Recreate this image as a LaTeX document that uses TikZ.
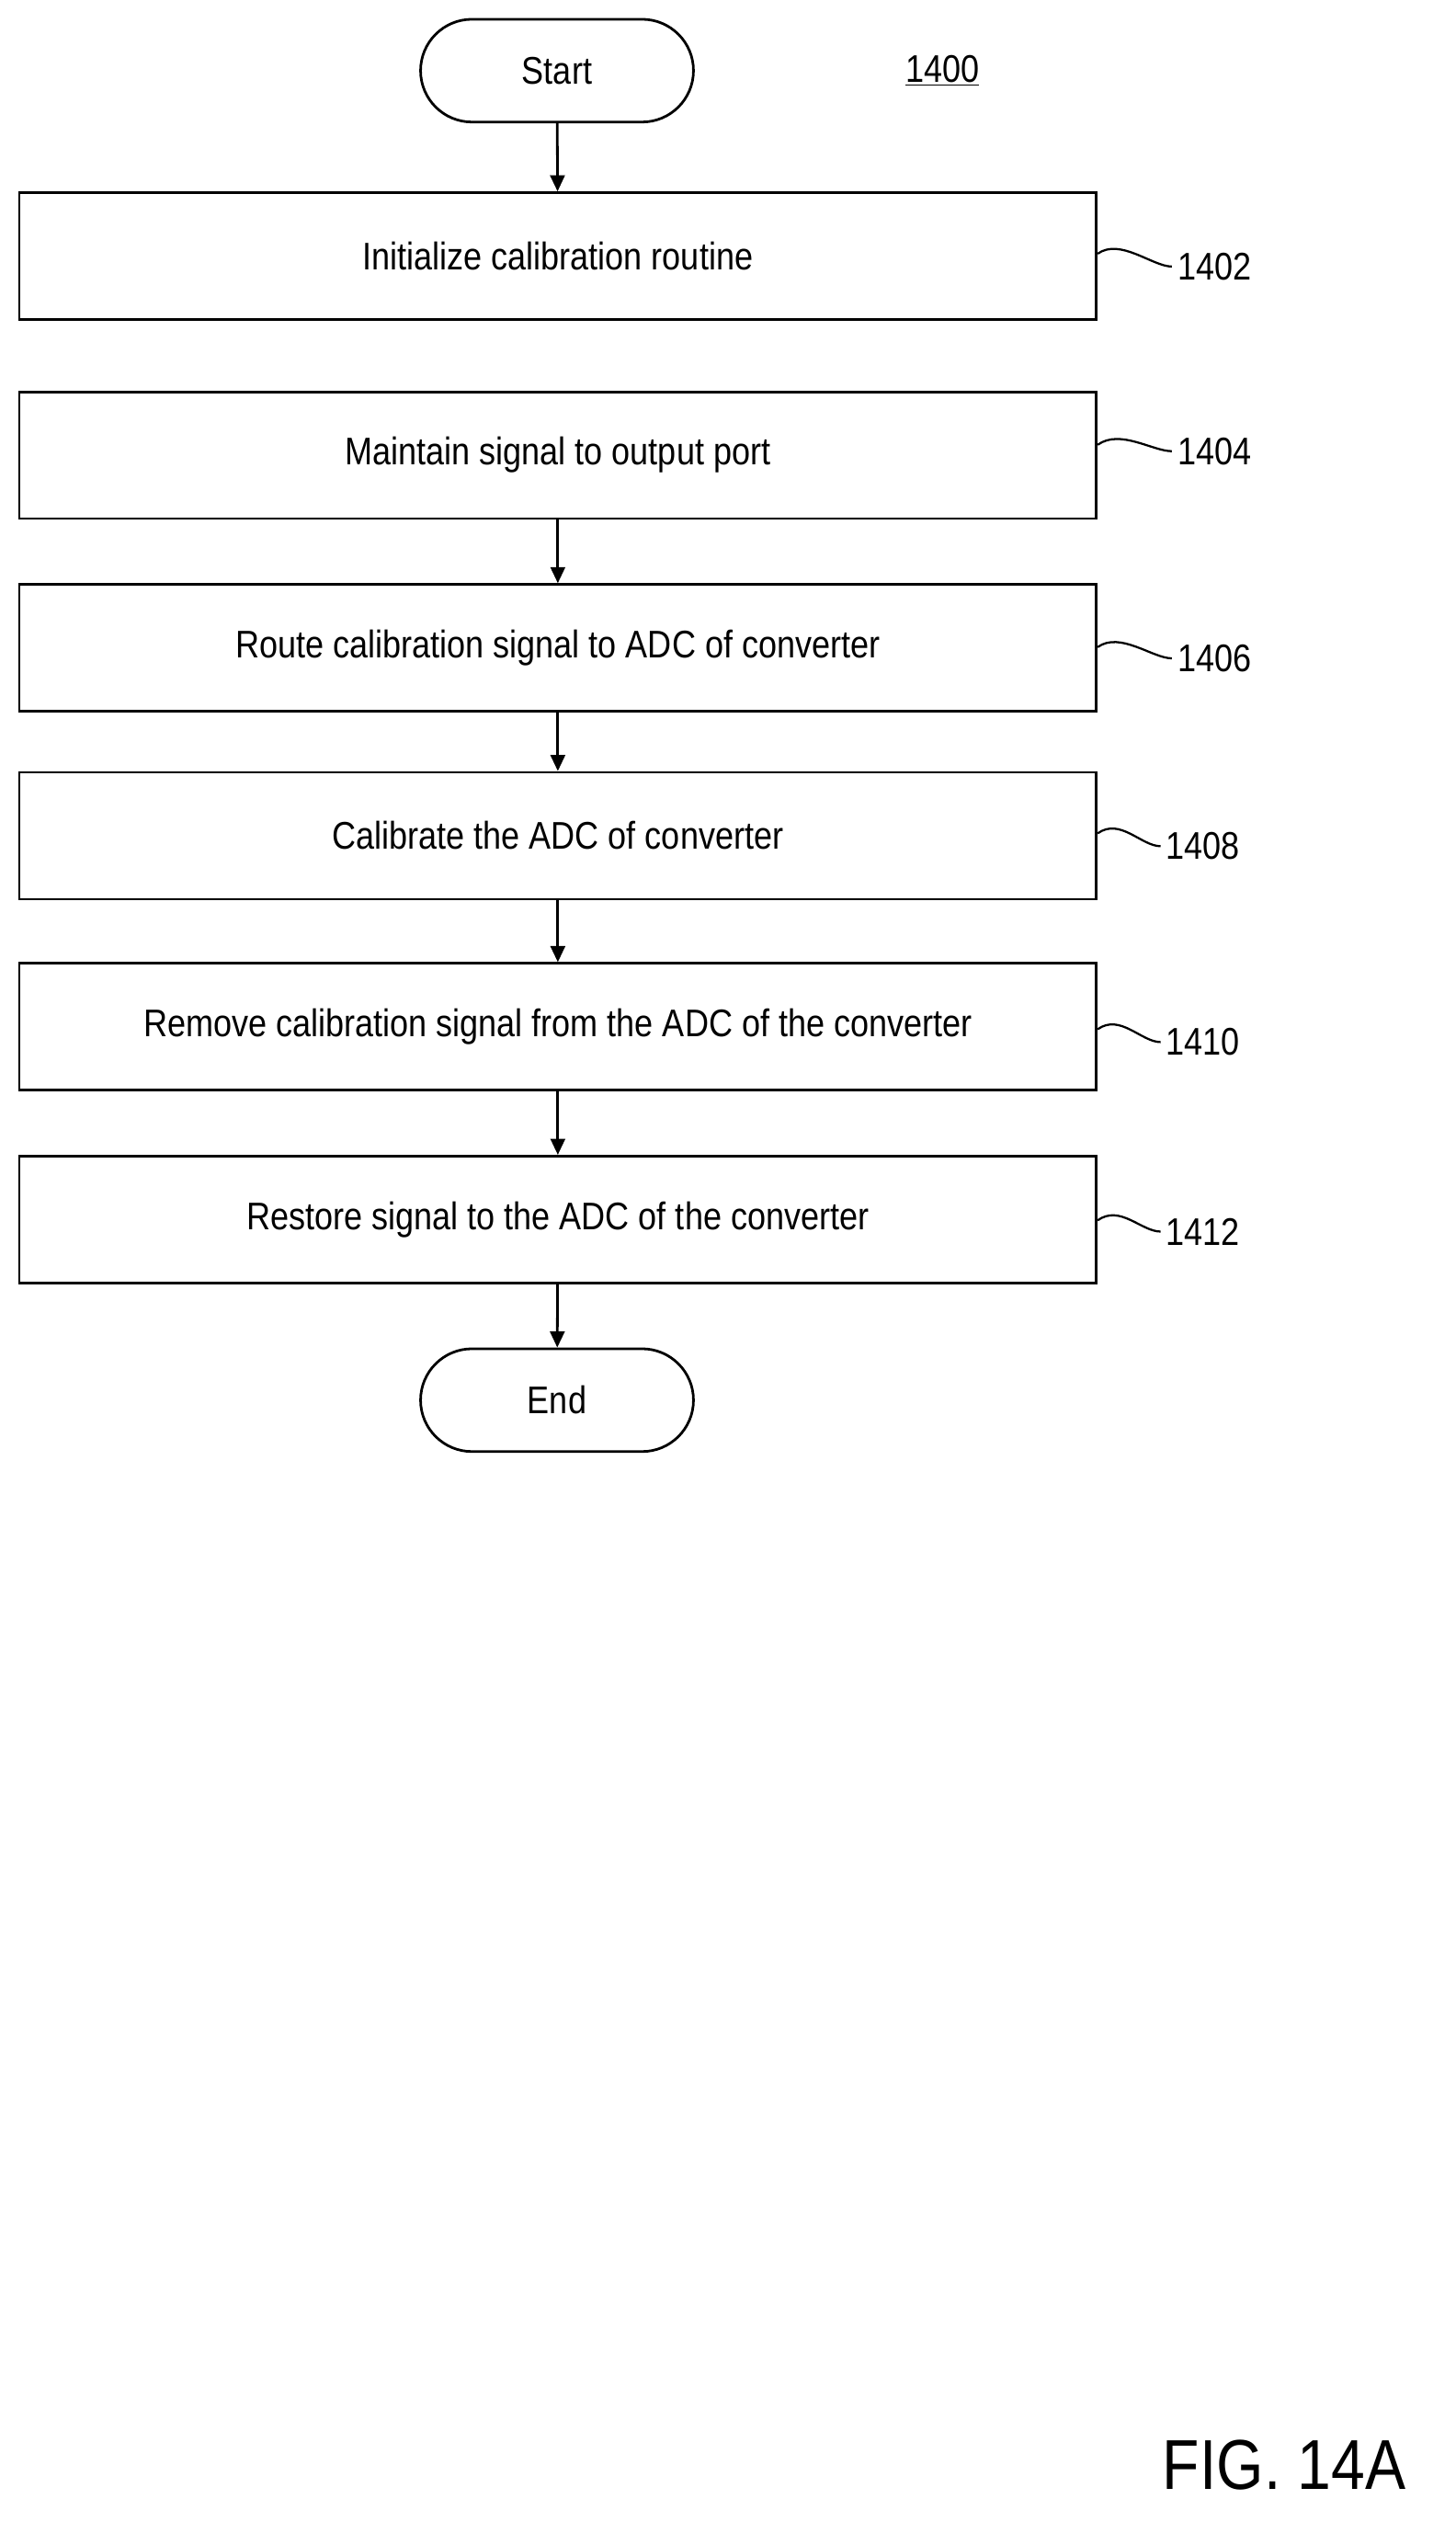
\documentclass[tikz,border=0pt]{standalone}
\usepackage{fontspec}
\setmainfont[FakeStretch=0.86]{Liberation Sans}
\usetikzlibrary{arrows.meta}
\begin{document}
\begin{tikzpicture}[x=1pt,y=-1pt,
  box/.style={draw,line width=1.6pt,minimum width=671pt,minimum height=79pt,font=\fontsize{24}{28}\selectfont},
  term/.style={draw,line width=1.6pt,rounded corners=32pt,minimum width=170pt,minimum height=64pt,font=\fontsize{24}{28}\selectfont},
  lbl/.style={font=\fontsize{24}{28}\selectfont},
  arr/.style={line width=1.6pt,-{Triangle[length=10pt,width=9pt]}},
  sq/.style={line width=1.3pt}]
\useasboundingbox (0,0) rectangle (907,1585);
\node[term] (start) at (347,44) {Start};
\node[lbl] (n1400) at (587,44) {\underline{1400}};
\node[box] (b1402) at (347.5,159.5) {Initialize calibration routine};
\node[box] (b1404) at (347.5,283.5) {Maintain signal to output port};
\node[box] (b1406) at (347.5,403.5) {Route calibration signal to ADC of converter};
\node[box] (b1408) at (347.5,520.5) {Calibrate the ADC of converter};
\node[box] (b1410) at (347.5,639.5) {Remove calibration signal from the ADC of the converter};
\node[box] (b1412) at (347.5,759.5) {Restore signal to the ADC of the converter};
\node[term] (end) at (347,872) {End};
\node[lbl,anchor=west] (l1402) at (730,166) {1402};
\node[lbl,anchor=west] (l1404) at (730,281) {1404};
\node[lbl,anchor=west] (l1406) at (730,410) {1406};
\node[lbl,anchor=west] (l1408) at (723,527) {1408};
\node[lbl,anchor=west] (l1410) at (723,649) {1410};
\node[lbl,anchor=west] (l1412) at (723,767) {1412};
\node[font=\fontsize{44}{50}\selectfont] (fig) at (800,1535) {FIG. 14A};
\draw[arr] (start) -- (b1402);
\draw[arr] (b1404) -- (b1406);
\draw[arr] (b1406) -- (b1408);
\draw[arr] (b1408) -- (b1410);
\draw[arr] (b1410) -- (b1412);
\draw[arr] (b1412) -- (end);
\foreach \b/\l/\ya/\yb in {b1402/l1402/158/166,b1404/l1404/277/281,b1406/l1406/403/410,b1408/l1408/519/527,b1410/l1410/641/649,b1412/l1412/760/767}{
  \draw[sq] (\b.east |- 0,\ya) .. controls +(14,-10) and +(-12,0) .. (\l.west |- 0,\yb);
}
\end{tikzpicture}
\end{document}
